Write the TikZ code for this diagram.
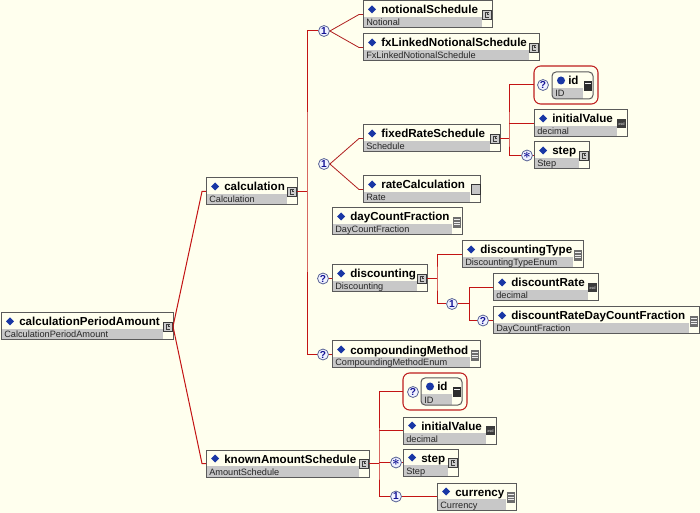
\documentclass[tikz,border=0pt]{standalone}
\usepackage{fontspec}
\newfontfamily\lsans{Liberation Sans}
\usetikzlibrary{calc}
\definecolor{bgc}{RGB}{255,255,238}
\definecolor{stripc}{RGB}{200,200,200}
\definecolor{boxb}{RGB}{90,90,90}
\definecolor{diamc}{RGB}{25,55,165}
\definecolor{redc}{RGB}{195,20,20}
\definecolor{fanc}{RGB}{175,30,30}
\definecolor{circb}{RGB}{90,100,150}
\definecolor{circf}{RGB}{240,242,255}
\definecolor{circt}{RGB}{20,20,150}
\definecolor{grpc}{RGB}{190,30,30}
\definecolor{icc}{RGB}{205,205,205}
\definecolor{icb}{RGB}{60,60,60}
\definecolor{iclist}{RGB}{110,110,110}
\definecolor{icx}{RGB}{60,60,60}
\newcommand{\xName}{\lsans\bfseries\fontsize{8.7}{10}\selectfont}
\newcommand{\xType}{\lsans\fontsize{6.9}{8}\selectfont}
\newcommand{\xCirc}{\lsans\bfseries\fontsize{7.6}{8}\selectfont}
\newcommand{\xStar}{{\boldmath\fontsize{10}{10}\selectfont$\ast$}}
% icons: #1 = right x, #2 = top y
\newcommand{\xiconC}[2]{%
  \filldraw[fill=icc, draw=icb, line width=0.5pt] (#1-10,#2+9) rectangle (#1-1,#2+18);
  \draw[icb, line width=0.55pt] (#1-3.5,#2+11.5) -- (#1-7,#2+11.5) -- (#1-7,#2+16) -- (#1-3,#2+16);
  \draw[icb, line width=0.55pt] (#1-5,#2+11.5) -- (#1-5,#2+13.5) -- (#1-3.5,#2+13.5);
}
\newcommand{\xiconL}[2]{%
  \fill[iclist] (#1-9,#2+9) rectangle (#1-1,#2+20);
  \foreach \k in {11.5,14,16.5} {\draw[white!85!gray, line width=0.6pt] (#1-8,#2+\k) -- (#1-2,#2+\k);}
}
\newcommand{\xiconX}[2]{%
  \fill[icx] (#1-10,#2+9) rectangle (#1-1,#2+18);
  \node[inner sep=0pt, font=\lsans\fontsize{3}{3}\selectfont, text=white!80!gray] at (#1-5.5,#2+14.5) {xsd};
}
\newcommand{\xiconS}[2]{%
  \filldraw[fill=gray!45, draw=gray!40!black, line width=0.5pt] (#1-9,#2+8) rectangle (#1,#2+18);
}
\newcommand{\xiconI}[2]{%
  \fill[gray!35!black] (#1-9,#2+9) rectangle (#1-1,#2+19);
  \draw[white!90!gray, line width=0.75pt] (#1-8,#2+12) -- (#1-2,#2+12);
}
% element box: name, x1, y1, x2, label, type, icon
\newcommand{\elem}[7]{%
  \pgfmathsetmacro{\elw}{(#4-#2)*0.75}%
  \node[elbox, minimum width=\elw pt, anchor=north west] (#1) at (#2,#3) {};
  \fill[stripc] (#2,#3+16) rectangle (#4-10,#3+27);
  \draw[boxline] (#2,#3) rectangle (#4,#3+27);
  \fill[diamc] (#2+9,#3+4.5) -- (#2+13,#3+8.5) -- (#2+9,#3+12.5) -- (#2+5,#3+8.5) -- cycle;
  \node[nametext, anchor=base west] (#1-n) at (#2+18,#3+13) {#5};
  \node[typetext, anchor=base west] (#1-t) at (#2+3,#3+25) {#6};
  \csname xicon#7\endcsname{#4}{#3}%
}
% id box: name, x1, y1, x2
\newcommand{\idel}[4]{%
  \pgfmathsetmacro{\elw}{(#4-#2)*0.75}%
  \node[elbox, minimum width=\elw pt, anchor=north west] (#1) at (#2,#3) {};
  \begin{scope}
    \clip[rounded corners=3pt] (#2,#3) rectangle (#4,#3+27);
    \fill[stripc] (#2,#3+16) rectangle (#4-10,#3+27);
  \end{scope}
  \draw[boxline, rounded corners=3pt] (#2,#3) rectangle (#4,#3+27);
  \fill[diamc] (#2+9,#3+8.5) circle[radius=3pt];
  \node[nametext, anchor=base west] (#1-n) at (#2+16,#3+13) {id};
  \node[typetext, anchor=base west] (#1-t) at (#2+3,#3+25) {ID};
  \xiconI{#4}{#3}%
}
\begin{document}
\begin{tikzpicture}[x=0.75pt,y=-0.75pt,
  elbox/.style={rectangle, inner sep=0pt, outer sep=0pt, minimum height=20.25pt},
  boxline/.style={draw=boxb, line width=0.75pt},
  nametext/.style={inner sep=0pt, font=\xName, text=black},
  typetext/.style={inner sep=0pt, font=\xType, text=black!85},
  redl/.style={draw=redc, line width=0.75pt},
  fanl/.style={draw=fanc, line width=0.6pt},
  circ/.style={circle, draw=circb, fill=circf, line width=0.6pt, inner sep=0pt, minimum size=8.2pt, font=\xCirc, text=circt},
  grp/.style={rectangle, rounded corners=5pt, draw=grpc, line width=0.8pt, inner sep=0pt, outer sep=0pt}]
\useasboundingbox (0,0) rectangle (700,513);
\fill[bgc] (0,0) rectangle (700,513);

% elements
\elem{cpa}{1}{313}{173}{calculationPeriodAmount}{CalculationPeriodAmount}{C}
\elem{calc}{206}{178}{297}{calculation}{Calculation}{C}
\elem{ns}{363}{1}{492}{notionalSchedule}{Notional}{C}
\elem{fx}{363}{34}{539}{fxLinkedNotionalSchedule}{FxLinkedNotionalSchedule}{C}
\elem{frs}{363}{125}{500}{fixedRateSchedule}{Schedule}{C}
\elem{iv1}{534}{110}{627}{initialValue}{decimal}{X}
\elem{st1}{534}{142}{589}{step}{Step}{C}
\elem{rc}{363}{176}{480}{rateCalculation}{Rate}{S}
\elem{dcf}{332}{208}{462}{dayCountFraction}{DayCountFraction}{L}
\elem{disc}{332}{265}{427}{discounting}{Discounting}{C}
\elem{dt}{462}{241}{583}{discountingType}{DiscountingTypeEnum}{L}
\elem{dr}{493}{274}{598}{discountRate}{decimal}{X}
\elem{drdcf}{493}{307}{699}{discountRateDayCountFraction}{DayCountFraction}{L}
\elem{cm}{332}{341}{480}{compoundingMethod}{CompoundingMethodEnum}{L}
\elem{kas}{206}{450}{369}{knownAmountSchedule}{AmountSchedule}{C}
\elem{iv2}{403}{417}{496}{initialValue}{decimal}{X}
\elem{st2}{403}{449}{458}{step}{Step}{C}
\elem{cur}{437}{483}{516}{currency}{Currency}{L}

% id groups
\node[grp, minimum width=48pt, minimum height=28.5pt, anchor=north west] (idg1) at (534,66) {};
\node[circ] (idg1q) at (543,85) {?};
\idel{id1}{552}{72}{593}
\node[grp, minimum width=48pt, minimum height=27.75pt, anchor=north west] (idg2) at (403,373) {};
\node[circ] (idg2q) at (413,392) {?};
\idel{id2}{421}{378}{462}

% compositor / occurrence circles
\node[circ] (ch1) at (324,31) {1};
\node[circ] (ch2) at (324,164) {1};
\node[circ] (discq) at ($(disc.west)+(-9,0)$) {?};
\node[circ] (cmq) at ($(cm.west)+(-9,0)$) {?};
\node[circ] (ch3) at (452,304) {1};
\node[circ] (drq) at ($(drdcf.west)+(-10,0)$) {?};
\node[circ] (st1s) at ($(st1.west)+(-7,0)$) {\xStar};
\node[circ] (st2s) at ($(st2.west)+(-7,0)$) {\xStar};
\node[circ] (curc) at ($(cur.west)+(-41,0)$) {1};

% connectors
\draw[redl] (cpa.east) -- ($(calc.west)+(-4,0)$) -- (calc.west);
\draw[redl] (cpa.east) -- ($(kas.west)+(-4,0)$) -- (kas.west);
\draw[redl] (calc.east) -- ++(10,0) coordinate (cb);
\draw[redl] (ch1.west) -| (cb) |- (cmq.west);
\draw[redl] (cmq.east) -- (cm.west);
\draw[redl] (discq.east) -- (disc.west);
\draw[fanl] (ch1.east) -- ($(ns.west)+(-4,0)$) -- (ns.west);
\draw[fanl] (ch1.east) -- ($(fx.west)+(-4,0)$) -- (fx.west);
\draw[fanl] (ch2.east) -- ($(frs.west)+(-4,0)$) -- (frs.west);
\draw[fanl] (ch2.east) -- ($(rc.west)+(-4,0)$) -- (rc.west);
\draw[redl] (frs.east) -- ++(9,0) coordinate (fb);
\draw[redl] (idg1.west) -| (fb) |- (st1s.west);
\draw[redl] (iv1.west) -- (iv1.west -| fb);
\draw[redl] (st1s.east) -- (st1.west);
\draw[redl] (disc.east) -- ++(10,0) coordinate (db);
\draw[redl] (dt.west) -| (db) |- (ch3.west);
\draw[redl] (ch3.east) -- ++(12,0) coordinate (c3b);
\draw[redl] (dr.west) -| (c3b) |- (drq.west);
\draw[redl] (drq.east) -- (drdcf.west);
\draw[redl] (kas.east) -- ++(10,0) coordinate (kb);
\draw[redl] (idg2.west) -| (kb) |- (curc.west);
\draw[redl] (iv2.west) -- (iv2.west -| kb);
\draw[redl] (st2s.west) -- (st2s.west -| kb);
\draw[redl] (st2s.east) -- (st2.west);
\draw[redl] (curc.east) -- (cur.west);
\end{tikzpicture}
\end{document}
